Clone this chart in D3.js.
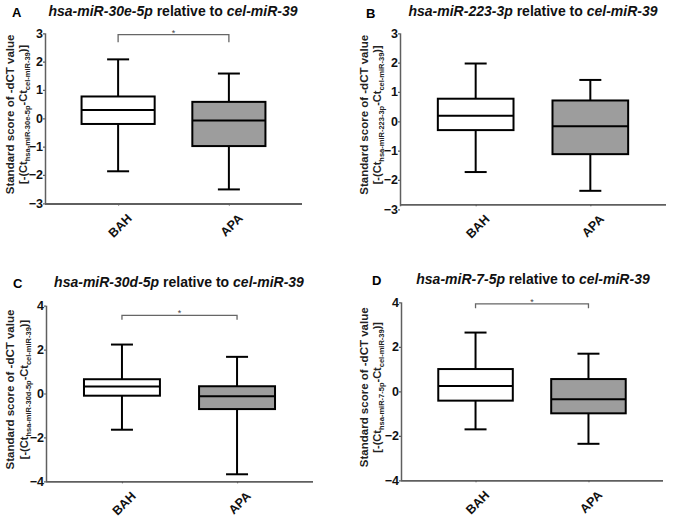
<!DOCTYPE html>
<html>
<head>
<meta charset="utf-8">
<script src="https://cdn.jsdelivr.net/npm/d3@7/dist/d3.min.js"></script>
<style>
html,body{margin:0;padding:0;background:#fff;}
svg{display:block;font-family:"Liberation Sans",Arial,sans-serif;}
</style>
</head>
<body>
<svg id="chart" width="673" height="518"></svg>
<script>
// ---- data ----
const groups = ["BAH", "APA"];
const panelLetters = ["A", "B", "C", "D"];
const targetMirs = ["hsa-miR-30e-5p", "hsa-miR-223-3p", "hsa-miR-30d-5p", "hsa-miR-7-5p"];
const referenceMir = "cel-miR-39";
const yTicksTop = [-3, -2, -1, 0, 1, 2, 3];
const yTicksBottom = [-4, -2, 0, 2, 4];
// [min, Q1, median, Q3, max]
const bahA = [-1.87, -0.20, 0.29, 0.77, 2.08];
const apaA = [-2.51, -0.98, -0.08, 0.58, 1.58];
const bahB = [-1.73, -0.30, 0.19, 0.77, 1.97];
const apaB = [-2.37, -1.12, -0.17, 0.71, 1.41];
const bahC = [-1.65, -0.10, 0.32, 0.65, 2.23];
const apaC = [-3.68, -0.71, -0.12, 0.33, 1.67];
const bahD = [-1.71, -0.42, 0.24, 1.00, 2.64];
const apaD = [-2.36, -0.99, -0.36, 0.55, 1.69];
const significant = ["*", "", "*", "*"];

// ---- layout ----
const panels = [
  {ax: 45,  xEnd: 302, yTopPx: 33.3,  yBotPx: 203.3, xAxisY: 203.5, dom: [-3, 3], ticks: yTicksTop, stats: [bahA, apaA], bracket: 2.95, bTick: 7.5, letterX: 12, letterY: 17, titleX: 173, titleY: 16, lab1X: 14, lab2X: 27},
  {ax: 400, xEnd: 666, yTopPx: 33.3,  yBotPx: 209.3, xAxisY: 204.3, dom: [-3, 3], ticks: yTicksTop, stats: [bahB, apaB], bracket: null, bTick: 0, letterX: 366, letterY: 18, titleX: 533, titleY: 16, lab1X: 368, lab2X: 381},
  {ax: 46,  xEnd: 313, yTopPx: 305.7, yBotPx: 481.3, xAxisY: 481.3, dom: [-4, 4], ticks: yTicksBottom, stats: [bahC, apaC], bracket: 3.56, bTick: 4.5, letterX: 13, letterY: 288, titleX: 179, titleY: 287, lab1X: 14, lab2X: 28},
  {ax: 401, xEnd: 663, yTopPx: 302.3, yBotPx: 480.3, xAxisY: 480.3, dom: [-4, 4], ticks: yTicksBottom, stats: [bahD, apaD], bracket: 3.93, bTick: 4.5, letterX: 372, letterY: 285, titleX: 533, titleY: 284, lab1X: 368, lab2X: 381}
];

const svg = d3.select("#chart");
const axisColor = "#5f5f5f";
const fills = ["#ffffff", "#9d9d9d"];

panels.forEach((p, i) => {
  const g = svg.append("g");
  const y = d3.scaleLinear().domain(p.dom).range([p.yBotPx, p.yTopPx]);
  const x = d3.scalePoint().domain(groups).range([p.ax, p.xEnd]).padding(0.66);
  const step = x.step();
  const boxW = step * 0.66;
  const capW = 22;

  // panel letter
  g.append("text").attr("x", p.letterX).attr("y", p.letterY)
    .attr("font-size", 13).attr("font-weight", "bold").text(panelLetters[i]);

  // title
  const t = g.append("text").attr("x", p.titleX).attr("y", p.titleY)
    .attr("text-anchor", "middle").attr("font-size", 14).attr("font-weight", "bold").attr("fill", "#111");
  t.append("tspan").attr("font-style", "italic").text(targetMirs[i]);
  t.append("tspan").text(" relative to ");
  t.append("tspan").attr("font-style", "italic").text(referenceMir);

  // y label
  const cy = (p.yTopPx + p.xAxisY) / 2 - 4;
  g.append("text")
    .attr("transform", `translate(${p.lab1X},${cy}) rotate(-90)`)
    .attr("text-anchor", "middle").attr("font-size", 11.5).attr("font-weight", "bold").attr("fill", "#222")
    .text("Standard score of -dCT value");
  const l2 = g.append("text")
    .attr("transform", `translate(${p.lab2X},${cy}) rotate(-90)`)
    .attr("text-anchor", "middle").attr("font-size", 11).attr("font-weight", "bold").attr("fill", "#222");
  l2.append("tspan").text("[-(Ct");
  l2.append("tspan").attr("font-size", 7.5).attr("dy", 2.5).text(targetMirs[i]);
  l2.append("tspan").attr("dy", -2.5).text("-Ct");
  l2.append("tspan").attr("font-size", 7.5).attr("dy", 2.5).text(referenceMir);
  l2.append("tspan").attr("dy", -2.5).text(")]");

  // y axis
  const ya = g.append("g").attr("transform", `translate(${p.ax},0)`)
    .call(d3.axisLeft(y).tickValues(p.ticks).tickFormat(d3.format("d")).tickSize(2).tickSizeOuter(0));
  ya.select(".domain").attr("stroke", axisColor).attr("stroke-width", 1.5)
    .attr("d", `M0.5,${p.yTopPx}V${Math.max(p.xAxisY, p.yBotPx - 3)}`);
  ya.selectAll(".tick line").attr("stroke", axisColor).attr("stroke-width", 1.2);
  ya.selectAll(".tick text").attr("font-size", 12.5).attr("font-weight", "bold")
    .attr("fill", "#111").attr("font-family", "Liberation Sans, Arial, sans-serif").attr("x", -2);

  // x axis
  const xa = g.append("g").attr("transform", `translate(0,${p.xAxisY})`)
    .call(d3.axisBottom(x).tickSize(2).tickSizeOuter(0).tickFormat(""));
  xa.select(".domain").attr("stroke", axisColor).attr("stroke-width", 1.8)
    .attr("d", `M${p.ax},0.5H${p.xEnd}`);
  xa.selectAll(".tick line").attr("stroke", axisColor).attr("stroke-width", 1.2);
  groups.forEach(gr => {
    g.append("text")
      .attr("transform", `translate(${x(gr) + 8},${p.xAxisY + 9}) rotate(-45)`)
      .attr("text-anchor", "end").attr("dy", "0.75em")
      .attr("font-size", 12.5).attr("font-weight", "bold").attr("fill", "#111")
      .text(gr);
  });

  // boxes
  groups.forEach((gr, j) => {
    const s = p.stats[j];
    const cx = x(gr);
    const bg = g.append("g").attr("stroke", "#000").attr("stroke-width", 2);
    bg.append("line").attr("x1", cx).attr("x2", cx).attr("y1", y(s[4])).attr("y2", y(s[3]));
    bg.append("line").attr("x1", cx).attr("x2", cx).attr("y1", y(s[1])).attr("y2", y(s[0]));
    bg.append("line").attr("x1", cx - capW / 2).attr("x2", cx + capW / 2).attr("y1", y(s[4])).attr("y2", y(s[4]));
    bg.append("line").attr("x1", cx - capW / 2).attr("x2", cx + capW / 2).attr("y1", y(s[0])).attr("y2", y(s[0]));
    bg.append("rect").attr("x", cx - boxW / 2).attr("width", boxW)
      .attr("y", y(s[3])).attr("height", y(s[1]) - y(s[3])).attr("fill", fills[j]);
    bg.append("line").attr("x1", cx - boxW / 2).attr("x2", cx + boxW / 2).attr("y1", y(s[2])).attr("y2", y(s[2]));
  });

  // significance bracket
  if (p.bracket !== null && significant[i]) {
    const by = y(p.bracket);
    const x1 = x(groups[0]), x2 = x(groups[1]);
    g.append("path").attr("fill", "none").attr("stroke", "#666").attr("stroke-width", 1.3)
      .attr("d", `M${x1},${by + p.bTick}V${by}H${x2}V${by + p.bTick}`);
    g.append("text").attr("x", (x1 + x2) / 2).attr("y", by + 1).attr("text-anchor", "middle")
      .attr("font-size", 9).attr("fill", "#444").text(significant[i]);
  }
});
</script>
</body>
</html>
